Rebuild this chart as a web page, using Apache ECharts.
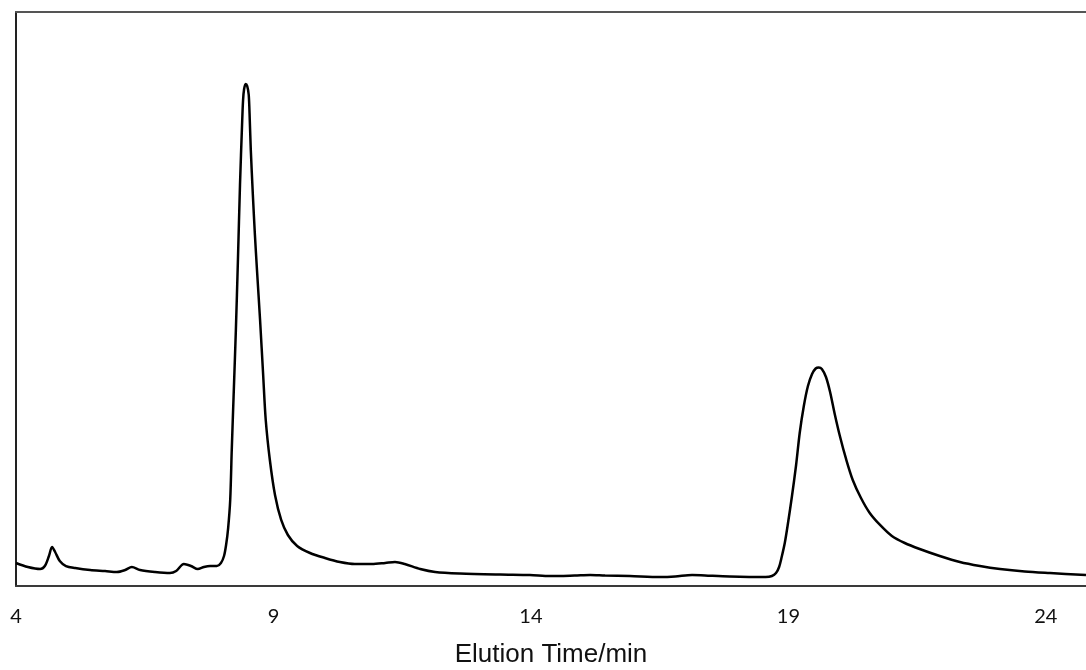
<!DOCTYPE html>
<html>
<head>
<meta charset="utf-8">
<script src="https://cdn.jsdelivr.net/npm/echarts@6/dist/echarts.min.js"></script>
<style>
  html, body { margin: 0; padding: 0; background: #fff; }
  #chart { width: 1086px; height: 670px; }
</style>
</head>
<body>
<div id="chart"></div>
<script>
// Chromatogram trace: elution time (min) and detector response (relative units)
const elutionTime = [
  4.00, 4.23, 4.47, 4.56, 4.64, 4.70, 4.76, 4.85, 4.97, 5.15, 5.44, 5.73, 5.96,
  6.12, 6.25, 6.41, 6.70, 6.99, 7.11, 7.26, 7.40, 7.53, 7.65, 7.77, 7.90, 7.98,
  8.04, 8.08, 8.12, 8.16, 8.19, 8.23, 8.27, 8.31, 8.35, 8.39, 8.41, 8.43, 8.46,
  8.49, 8.52, 8.54, 8.56, 8.60, 8.64, 8.68, 8.74, 8.80, 8.85, 8.93, 9.03, 9.15,
  9.28, 9.46, 9.71, 10.00, 10.29, 10.58, 10.91, 11.17, 11.36, 11.55, 11.85,
  12.14, 12.62, 13.40, 13.98, 14.37, 14.85, 15.15, 15.44, 15.92, 16.51, 16.80,
  17.13, 17.38, 17.86, 18.56, 18.68, 18.76, 18.82, 18.87, 18.93, 18.99, 19.07,
  19.15, 19.22, 19.30, 19.38, 19.46, 19.53, 19.59, 19.65, 19.73, 19.81, 19.90,
  20.00, 20.12, 20.25, 20.41, 20.58, 20.78, 21.01, 21.26, 21.55, 21.94, 22.33,
  22.72, 23.11, 23.59, 24.08, 24.78
];
const response = [
  4.01, 3.31, 2.96, 3.48, 5.23, 6.79, 5.92, 4.36, 3.48, 3.14, 2.79, 2.61, 2.44,
  2.79, 3.31, 2.79, 2.44, 2.26, 2.61, 3.83, 3.48, 2.96, 3.31, 3.48, 3.48, 4.01,
  5.23, 7.14, 10.10, 14.98, 23.69, 34.15, 44.60, 56.79, 69.86, 80.31, 84.67, 86.59, 87.46,
  87.11, 85.54, 81.18, 75.96, 68.12, 61.15, 55.05, 46.34, 36.76, 28.92, 21.95, 15.85, 11.50,
  8.89, 6.97, 5.75, 4.88, 4.18, 3.83, 3.83, 4.01, 4.18, 3.83, 2.96,
  2.44, 2.18, 2.00, 1.92, 1.74, 1.83, 1.92, 1.83, 1.74, 1.57, 1.66,
  1.92, 1.83, 1.66, 1.57, 1.74, 2.26, 3.31, 5.05, 7.49, 10.80, 15.68,
  21.08, 26.66, 31.36, 34.84, 36.93, 37.89, 38.07, 37.80, 36.41, 33.80, 29.97,
  26.13, 22.13, 18.47, 15.33, 12.72, 10.63, 8.71, 7.49, 6.45, 5.23, 4.18,
  3.48, 2.96, 2.53, 2.26, 1.92
];
const xTickStart = 4;
const xTickStep = 5;
const xEnd = 24.78;
const xTitle = 'Elution Time/min';

const trace = elutionTime.map((t, i) => [t, response[i]]);
const frameColor = '#3a3a3a';

const chart = echarts.init(document.getElementById('chart'), null, { renderer: 'canvas' });
chart.setOption({
  animation: false,
  backgroundColor: '#ffffff',
  grid: { left: 16, right: 0, top: 12, bottom: 84, containLabel: false, outerBoundsMode: 'none' },
  xAxis: [
    {
      type: 'value',
      min: xTickStart,
      max: xEnd,
      interval: xTickStep,
      position: 'bottom',
      axisLine: { show: true, onZero: false, lineStyle: { color: frameColor, width: 2 } },
      axisTick: { show: false },
      splitLine: { show: false },
      axisLabel: {
        showMaxLabel: false,
        margin: 21,
        color: '#111',
        fontFamily: 'Lato',
        fontSize: 20
      },
      name: xTitle,
      nameLocation: 'middle',
      nameGap: 56,
      nameTextStyle: { color: '#111', fontFamily: 'Liberation Sans', fontSize: 26 }
    },
    {
      type: 'value',
      min: xTickStart,
      max: xEnd,
      position: 'top',
      axisLine: { show: true, onZero: false, lineStyle: { color: '#555', width: 2 } },
      axisTick: { show: false },
      axisLabel: { show: false },
      splitLine: { show: false }
    }
  ],
  yAxis: {
    type: 'value',
    min: 0,
    max: 100,
    axisLine: { show: true, onZero: false, lineStyle: { color: '#222', width: 2 } },
    axisTick: { show: false },
    axisLabel: { show: false },
    splitLine: { show: false }
  },
  series: [{
    type: 'line',
    xAxisIndex: 0,
    data: trace,
    smooth: 0.3,
    symbol: 'none',
    lineStyle: { color: '#000', width: 2.5 }
  }]
});
</script>
</body>
</html>
